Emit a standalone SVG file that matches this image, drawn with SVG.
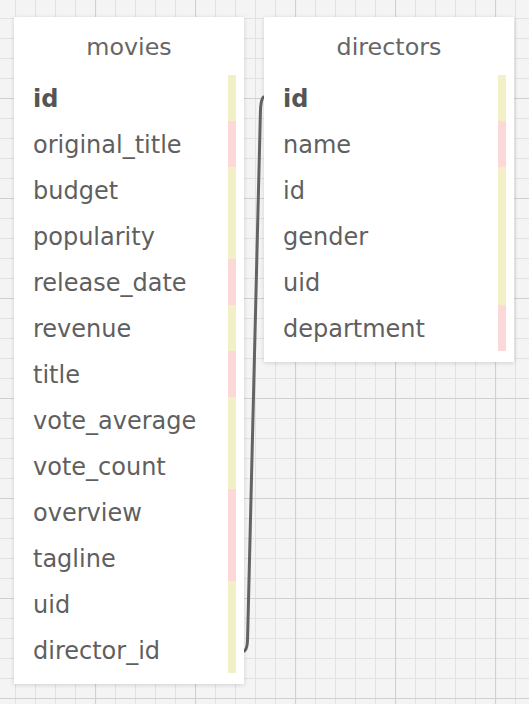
<svg xmlns="http://www.w3.org/2000/svg" width="529" height="704" viewBox="0 0 529 704">
<defs>
<pattern id="minor" x="15" y="18" width="20" height="20" patternUnits="userSpaceOnUse">
<path d="M0 0H20M0 0V20" stroke="#e2e2e2" stroke-width="2.2" fill="none"/>
</pattern>
<pattern id="major" x="95" y="98" width="100" height="100" patternUnits="userSpaceOnUse">
<path d="M0 0H100M0 0V100" stroke="#d0d0d0" stroke-width="2.2" fill="none"/>
</pattern>
<filter id="sh" x="-10%" y="-10%" width="120%" height="120%">
<feDropShadow dx="0" dy="1" stdDeviation="2" flood-color="#000" flood-opacity="0.15"/>
</filter>
</defs>
<style>
.box{fill:#fff;filter:url(#sh)}
.hd{font-family:"DejaVu Sans",Verdana,sans-serif;font-size:23.8px;fill:#666;text-anchor:middle}
.f{font-family:"DejaVu Sans",Verdana,sans-serif;font-size:24px;fill:#5f5f5f}
.pk{font-weight:bold;fill:#555}
.y{fill:#f2f0c6}
.p{fill:#fdd8d8}
.conn{fill:none;stroke:#636363;stroke-width:3;stroke-linecap:round}
</style>
<rect width="529" height="704" fill="#f4f4f4"/>
<rect width="529" height="704" fill="url(#minor)"/>
<rect width="529" height="704" fill="url(#major)"/>

<g id="connectors">
<path class="conn" d="M244.5 651 Q247.5 649 247.6 638 L260.4 112 Q260.8 99 263.5 97"/>
</g>

<g id="movies">
<rect class="box" x="14" y="17" width="230" height="667"/>
<text class="hd" x="129" y="55">movies</text>
<rect class="y" x="228" y="75" width="8" height="46"/>
<rect class="p" x="228" y="121" width="8" height="46"/>
<rect class="y" x="228" y="167" width="8" height="92"/>
<rect class="p" x="228" y="259" width="8" height="46"/>
<rect class="y" x="228" y="305" width="8" height="46"/>
<rect class="p" x="228" y="351" width="8" height="46"/>
<rect class="y" x="228" y="397" width="8" height="92"/>
<rect class="p" x="228" y="489" width="8" height="92"/>
<rect class="y" x="228" y="581" width="8" height="92"/>
<text class="f pk" x="33" y="107">id</text>
<text class="f" x="33" y="153">original_title</text>
<text class="f" x="33" y="199">budget</text>
<text class="f" x="33" y="245">popularity</text>
<text class="f" x="33" y="291">release_date</text>
<text class="f" x="33" y="337">revenue</text>
<text class="f" x="33" y="383">title</text>
<text class="f" x="33" y="429">vote_average</text>
<text class="f" x="33" y="475">vote_count</text>
<text class="f" x="33" y="521">overview</text>
<text class="f" x="33" y="567">tagline</text>
<text class="f" x="33" y="613">uid</text>
<text class="f" x="33" y="659">director_id</text>
</g>

<g id="directors">
<rect class="box" x="264" y="17" width="250" height="345"/>
<text class="hd" x="389" y="55">directors</text>
<rect class="y" x="498" y="75" width="8" height="46"/>
<rect class="p" x="498" y="121" width="8" height="46"/>
<rect class="y" x="498" y="167" width="8" height="138"/>
<rect class="p" x="498" y="305" width="8" height="46"/>
<text class="f pk" x="283" y="107">id</text>
<text class="f" x="283" y="153">name</text>
<text class="f" x="283" y="199">id</text>
<text class="f" x="283" y="245">gender</text>
<text class="f" x="283" y="291">uid</text>
<text class="f" x="283" y="337">department</text>
</g>
</svg>
